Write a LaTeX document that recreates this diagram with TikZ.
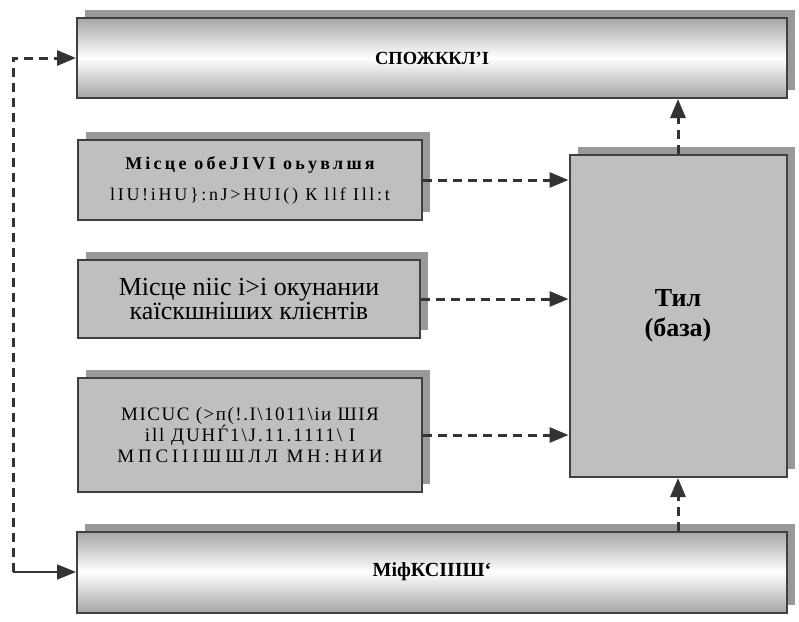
\documentclass[tikz,border=0pt]{standalone}
\usepackage{fontspec}
\setmainfont{Liberation Serif}
\usepackage{xcolor}
\usepackage{tikz}
\usetikzlibrary{shadows,arrows.meta}

\begin{document}
\begin{tikzpicture}[x=1pt, y=-1pt]
    \tikzset{block/.style={draw=black!75, line width=2pt, fill=gray!50, align=center, inner sep=0pt,
        drop shadow={shadow xshift=8pt, shadow yshift=8pt, fill=gray!80, opacity=1}}}
    \tikzset{bar/.style={block, top color=gray!70, bottom color=gray!70, middle color=white,
        minimum width=710pt, font=\bfseries\fontsize{18.5}{20}\selectfont}}
    \tikzset{flow/.style={line width=3pt, black!80, dash pattern=on 9pt off 6pt,
        -{Triangle[length=19pt, width=15pt]}}}

    \useasboundingbox (0,0) rectangle (799,621);

    \node[bar, minimum height=80pt] (spozh) at (432,58) {СПОЖККЛ'І};
    \node[bar, minimum height=81pt, font=\bfseries\fontsize{20}{22}\selectfont] (mif) at (432,572) {МіфКСІІІШ`};

    \node[block, minimum width=344pt, minimum height=80pt, font=\fontsize{18}{31}\selectfont] (b1) at (250,180)
        {{\bfseries\addfontfeature{LetterSpace=18}Місце обеЈІVІ оьувлшя}\\
         {\addfontfeature{LetterSpace=15}lIU!iHU\}:nJ>HUI() К llf Ill:t}};
    \node[block, minimum width=342pt, minimum height=78pt, font=\fontsize{26}{21}\selectfont] (b2) at (249,299)
        {Місце niic i>i окунании\\ каїскшніших клієнтів};
    \node[block, minimum width=344pt, minimum height=114pt, font=\fontsize{19}{21}\selectfont] (b3) at (250,435)
        {{\addfontfeature{LetterSpace=8}МІСUС (>п(!.І\textbackslash 1011\textbackslash іи ШІЯ}\\
         {\addfontfeature{LetterSpace=10}ill ДUНЃ1\textbackslash J.11.1111\textbackslash{} I}\\
         {\addfontfeature{LetterSpace=20}МПСІIIШШЛЛ МН:НИИ}};
    \node[block, minimum width=217pt, minimum height=322pt, font=\bfseries\fontsize{26}{30}\selectfont] (tyl) at (678,316)
        {Тил\\ (база)};

    \coordinate (c1) at (13,58);
    \coordinate (c2) at (13,572);

    \draw[flow] (b1.east) -- (b1.east -| tyl.west);
    \draw[flow] (b2.east) -- (b2.east -| tyl.west);
    \draw[flow] (b3.east) -- (b3.east -| tyl.west);
    \draw[flow] (tyl.north) -- (tyl.north |- spozh.south);
    \draw[flow] (tyl.south |- mif.north) -- (tyl.south);
    \draw[flow] (c2) -- (c1) -- (spozh.west);
    \draw[flow, solid, line width=1.5pt] (c2) -- (mif.west);
\end{tikzpicture}
\end{document}
